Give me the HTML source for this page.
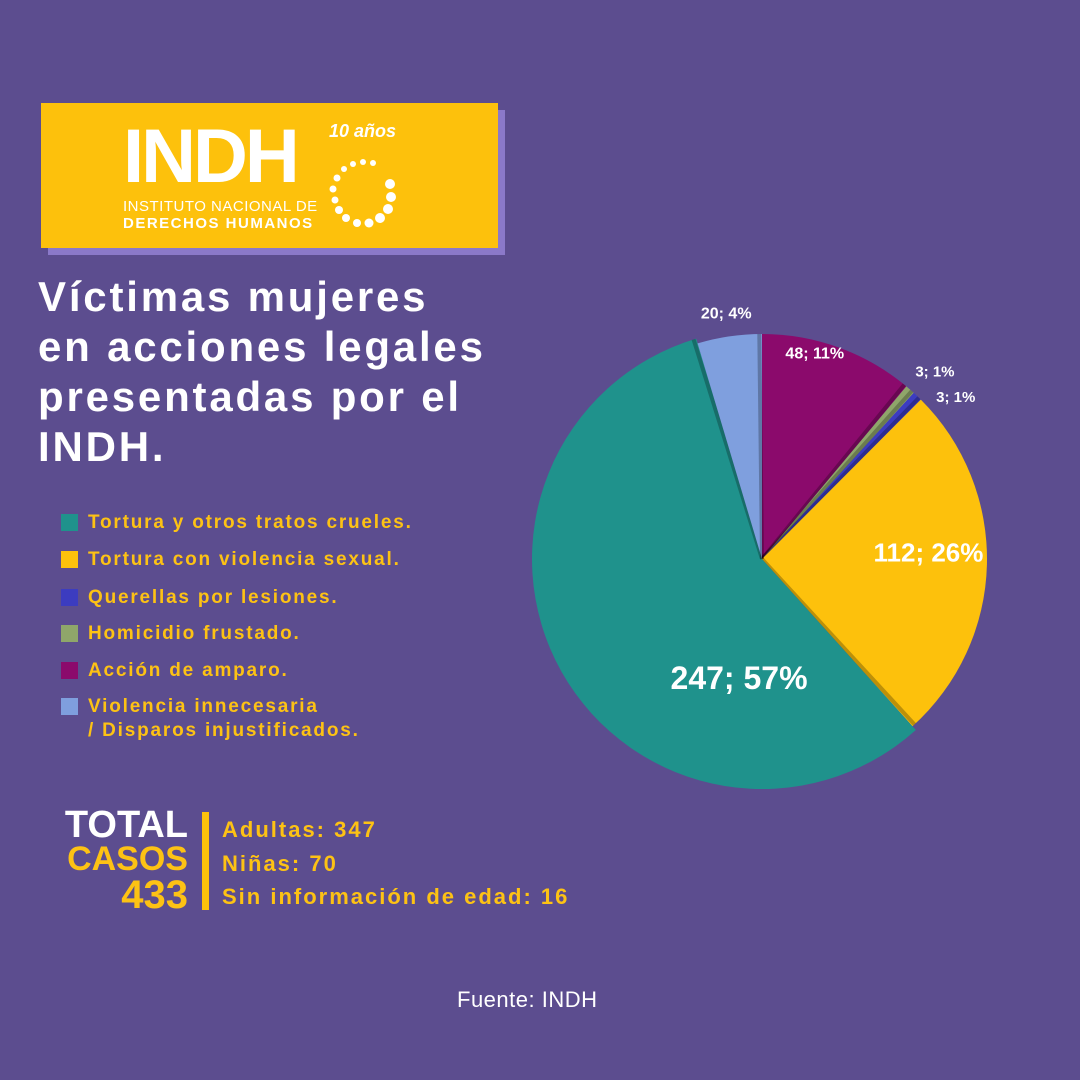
<!DOCTYPE html>
<html><head><meta charset="utf-8"><style>
body{margin:0;width:1080px;height:1080px;background:#5c4d8f;font-family:"Liberation Sans",sans-serif;position:relative;overflow:hidden}
.abs{position:absolute}
.leg{position:absolute;left:61px;font-weight:bold;font-size:19px;color:#fdc214;line-height:24px;letter-spacing:1.8px}
.leg span.sw{position:absolute;left:0;top:3px;width:17px;height:17px}
.leg span.t{position:absolute;left:27px;white-space:nowrap}
</style></head><body>
<div class="abs" style="left:48px;top:110px;width:457px;height:145px;background:#8b79c9"></div>
<div class="abs" style="left:41px;top:103px;width:457px;height:145px;background:#fdc10c">
  <div class="abs" style="left:82px;top:12px;font-size:76px;font-weight:bold;color:#fff;letter-spacing:-3px;line-height:84px">INDH</div>
  <div class="abs" style="left:288px;top:18px;font-size:18px;font-style:italic;font-weight:bold;color:#fff">10 años</div>
  <div class="abs" style="left:82px;top:95px;font-size:15px;color:#fff;letter-spacing:0.5px">INSTITUTO NACIONAL DE</div>
  <div class="abs" style="left:82px;top:112px;font-size:15px;font-weight:bold;color:#fff;letter-spacing:1.5px">DERECHOS HUMANOS</div>
  <svg class="abs" style="left:270px;top:40px" width="100" height="100">
    <g fill="#fff">
      <circle cx="42" cy="21" r="3"/><circle cx="52" cy="19" r="3"/><circle cx="62" cy="20" r="3"/><circle cx="33" cy="26" r="3"/>
      <circle cx="26" cy="35" r="3.5"/><circle cx="22" cy="46" r="3.5"/><circle cx="24" cy="57" r="3.5"/><circle cx="28" cy="67" r="4"/>
      <circle cx="35" cy="75" r="4"/><circle cx="46" cy="80" r="4"/><circle cx="58" cy="80" r="4.5"/><circle cx="69" cy="75" r="5"/>
      <circle cx="77" cy="66" r="5"/><circle cx="80" cy="54" r="5"/><circle cx="79" cy="41" r="5"/>
    </g>
  </svg>
</div>
<div class="abs" style="left:38px;top:272px;font-size:42px;font-weight:bold;color:#fff;line-height:50px;letter-spacing:2.8px;white-space:nowrap">Víctimas mujeres<br>en acciones legales<br>presentadas por el<br>INDH.</div>

<div class="leg" style="top:511px"><span class="sw" style="background:#1f928c"></span><span class="t">Tortura y otros tratos crueles.</span></div>
<div class="leg" style="top:548px"><span class="sw" style="background:#fdc10c"></span><span class="t">Tortura con violencia sexual.</span></div>
<div class="leg" style="top:586px"><span class="sw" style="background:#3c3cc0"></span><span class="t">Querellas por lesiones.</span></div>
<div class="leg" style="top:622px"><span class="sw" style="background:#8fa66a"></span><span class="t">Homicidio frustado.</span></div>
<div class="leg" style="top:659px"><span class="sw" style="background:#8b0a6c"></span><span class="t">Acción de amparo.</span></div>
<div class="leg" style="top:695px"><span class="sw" style="background:#7f9fde"></span><span class="t">Violencia innecesaria<br>/ Disparos injustificados.</span></div>

<div class="abs" style="left:40px;top:805px;width:148px;text-align:right;font-weight:bold;font-size:38px;line-height:40px;color:#fff">TOTAL</div>
<div class="abs" style="left:40px;top:841px;width:148px;text-align:right;font-weight:bold;font-size:34px;line-height:36px;color:#fdc214">CASOS</div>
<div class="abs" style="left:40px;top:875px;width:148px;text-align:right;font-weight:900;font-size:40px;line-height:40px;color:#fdc214">433</div>
<div class="abs" style="left:202px;top:812px;width:7px;height:98px;background:#fdc10c"></div>
<div class="abs" style="left:222px;top:813px;font-size:22px;font-weight:bold;color:#fdc214;line-height:33.5px;letter-spacing:2px;white-space:nowrap">Adultas: 347<br>Niñas: 70<br>Sin información de edad: 16</div>
<div class="abs" style="left:457px;top:987px;font-size:22px;color:#fff;letter-spacing:0.5px">Fuente: INDH</div>

<svg id="pie" class="abs" style="left:0;top:0" width="1080" height="1080"></svg>
<script>
const categories=["Acción de amparo","Homicidio frustado","Querellas por lesiones","Tortura con violencia sexual","Tortura y otros tratos crueles","Violencia innecesaria"];
const values=[48,3,3,112,247,20];
const labels=["48; 11%","3; 1%","3; 1%","112; 26%","247; 57%","20; 4%"];
const colors=["#8b0a6c","#8fa66a","#3c3cc0","#fdc10c","#1f928c","#7f9fde"];
const svg=document.getElementById('pie');
const NS='http://www.w3.org/2000/svg';
const cx=762,cy=559,R=225;
const total=values.reduce((a,b)=>a+b,0);
// label placement: radius factor, angle offset (deg), font size
const labelCfg=[{r:0.94,d:-5.5,size:16},{r:1.13,d:1.7,size:15},{r:1.12,d:6.6,size:15},{r:0.74,d:-3,size:26},{r:0.55,d:-50,size:32},{r:1.1,d:0,size:16}];
function pt(a,r){return [cx+r*Math.sin(a),cy-r*Math.cos(a)];}
let acc=0;
values.forEach((v,i)=>{
  const a0=acc/total*2*Math.PI; acc+=v; const a1=acc/total*2*Math.PI;
  const r=i===4?230:R;
  const p0=pt(a0,r),p1=pt(a1,r);
  const large=(a1-a0)>Math.PI?1:0;
  const p=document.createElementNS(NS,'path');
  p.setAttribute('d',`M${cx},${cy} L${p0[0]},${p0[1]} A${r},${r} 0 ${large} 1 ${p1[0]},${p1[1]} Z`);
  p.setAttribute('fill',colors[i]);
  
  
  svg.appendChild(p);
  const e=document.createElementNS(NS,'line');
  const pe=pt(a1-0.012,r);
  e.setAttribute('x1',cx);e.setAttribute('y1',cy);e.setAttribute('x2',pe[0]);e.setAttribute('y2',pe[1]);
  e.setAttribute('stroke','rgba(0,0,0,0.25)');e.setAttribute('stroke-width','4');
  
  
  svg.appendChild(e);
  const c=labelCfg[i];
  const am=(a0+a1)/2+c.d*Math.PI/180;
  const lp=pt(am,R*c.r);
  const t=document.createElementNS(NS,'text');
  t.setAttribute('x',lp[0]);t.setAttribute('y',lp[1]);
  t.setAttribute('text-anchor','middle');t.setAttribute('dominant-baseline','middle');
  t.setAttribute('fill','#fff');t.setAttribute('font-weight','bold');t.setAttribute('font-size',c.size);
  t.setAttribute('font-family','Liberation Sans, sans-serif');
  t.textContent=labels[i];
  
  
  svg.appendChild(t);
});
</script>
</body></html>
